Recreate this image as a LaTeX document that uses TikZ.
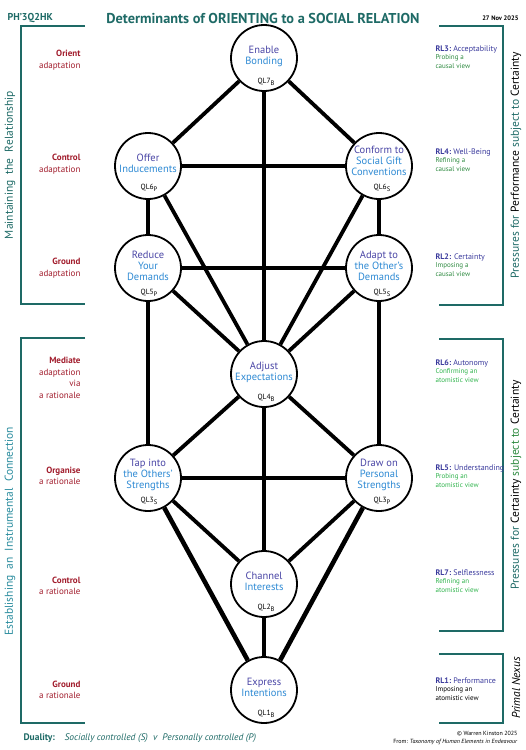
\documentclass[tikz,border=0pt]{standalone}
\usepackage{fontspec}
\setmainfont{PT Sans}

\definecolor{tealdark}{HTML}{1E6A66}
\definecolor{teallight}{HTML}{2A8C9E}
\definecolor{lvlred}{HTML}{A11C2C}
\definecolor{qlpurple}{HTML}{4A46A6}
\definecolor{qlblue}{HTML}{2E8AD4}
\definecolor{rlblue}{HTML}{3A3A9C}
\definecolor{rlgreen}{HTML}{2E8A40}
\definecolor{rllime}{HTML}{2FB34C}

\newcommand{\qlsub}[1]{\raisebox{-2.2pt}{\fontsize{6.5}{7}\selectfont #1}}

\tikzset{
  qlcirc/.style={circle,draw=black,line width=1.8pt,fill=white,minimum size=66pt,inner sep=0pt},
  link/.style={line width=3.8pt},
  heavylink/.style={line width=4.6pt},
  qltext/.style={align=center,text=qlblue,font=\fontsize{10.5}{11}\selectfont},
  qltag/.style={font=\fontsize{7.5}{8}\selectfont},
  bracket/.style={draw=tealdark,line width=1.8pt},
  lvl/.style={anchor=east,align=right,text=lvlred,font=\fontsize{9}{11.5}\selectfont},
  rl/.style={anchor=west,align=left,text=rlgreen,font=\fontsize{7}{8.8}\selectfont},
  side/.style={rotate=90,font=\fontsize{11.5}{13}\selectfont}
}

\begin{document}
\begin{tikzpicture}[x=1pt,y=-1pt]
\useasboundingbox (0,0) rectangle (526,750);

% header
\node[anchor=west,text=tealdark,font=\bfseries\fontsize{10}{12}\selectfont] (code) at (4,18) {PH'3Q2HK};
\node[text=tealdark,font=\bfseries\fontsize{14.3}{16}\selectfont] (title) at (263,18) {Determinants of ORIENTING to a SOCIAL RELATION};
\node[anchor=east,font=\bfseries\fontsize{6.5}{8}\selectfont] (date) at (522,18) {27 Nov 2025};

% brackets
\draw[bracket] (85,26) -- (21,26) -- (21,304) -- (85,304);
\draw[bracket] (85,338) -- (21,338) -- (21,723) -- (85,723);
\draw[bracket] (439,26) -- (503,26) -- (503,305) -- (439,305);
\draw[bracket] (439,339) -- (503,339) -- (503,631) -- (439,631);
\draw[bracket] (439,654) -- (503,654) -- (503,723) -- (439,723);

% circles
\node[qlcirc] (enable) at (264,58) {};
\node[qlcirc] (offer) at (148,166) {};
\node[qlcirc] (conform) at (379,166) {};
\node[qlcirc] (reduce) at (148,268) {};
\node[qlcirc] (adapt) at (379,268) {};
\node[qlcirc] (adjust) at (264,374) {};
\node[qlcirc] (tapinto) at (148,478) {};
\node[qlcirc] (drawon) at (379,478) {};
\node[qlcirc] (channel) at (264,584) {};
\node[qlcirc] (express) at (264,690) {};

% links
\draw[link] (enable) -- (offer);
\draw[link] (enable) -- (conform);
\draw[link] (enable) -- (adjust);
\draw[link] (offer) -- (conform);
\draw[link] (offer) -- (reduce);
\draw[link] (offer) -- (adjust);
\draw[link] (conform) -- (adapt);
\draw[link] (conform) -- (adjust);
\draw[link] (reduce) -- (adapt);
\draw[link] (reduce) -- (tapinto);
\draw[link] (reduce) -- (adjust);
\draw[link] (adapt) -- (drawon);
\draw[link] (adapt) -- (adjust);
\draw[link] (adjust) -- (tapinto);
\draw[link] (adjust) -- (drawon);
\draw[link] (adjust) -- (channel);
\draw[link] (tapinto) -- (drawon);
\draw[link] (tapinto) -- (channel);
\draw[link] (drawon) -- (channel);
\draw[link] (channel) -- (express);
\draw[heavylink] (tapinto) -- (express);
\draw[heavylink] (drawon) -- (express);

% circle texts
\node[qltext] (enable-txt) at (264,56) {{\color{qlpurple}Enable}\\Bonding};
\node[qltag] (enable-ql) at (266,82) {QL7\qlsub{B}};
\node[qltext] (offer-txt) at (148,163) {{\color{qlpurple}Offer}\\Inducements};
\node[qltag] (offer-ql) at (149,188) {QL6\qlsub{P}};
\node[qltext] (conform-txt) at (379,161) {{\color{qlpurple}Conform to}\\Social Gift\\Conventions};
\node[qltag] (conform-ql) at (382,188) {QL6\qlsub{S}};
\node[qltext] (reduce-txt) at (148,266) {{\color{qlpurple}Reduce}\\Your\\Demands};
\node[qltag] (reduce-ql) at (149,293) {QL5\qlsub{P}};
\node[qltext] (adapt-txt) at (379,266) {{\color{qlpurple}Adapt to}\\the Other's\\Demands};
\node[qltag] (adapt-ql) at (382,293) {QL5\qlsub{S}};
\node[qltext] (adjust-txt) at (264,372) {{\color{qlpurple}Adjust}\\Expectations};
\node[qltag] (adjust-ql) at (266,398) {QL4\qlsub{B}};
\node[qltext] (tapinto-txt) at (148,475) {{\color{qlpurple}Tap into}\\the Others'\\Strengths};
\node[qltag] (tapinto-ql) at (149,501) {QL3\qlsub{S}};
\node[qltext] (drawon-txt) at (379,475) {{\color{qlpurple}Draw on}\\Personal\\Strengths};
\node[qltag] (drawon-ql) at (382,501) {QL3\qlsub{P}};
\node[qltext] (channel-txt) at (264,581) {{\color{qlpurple}Channel}\\Interests};
\node[qltag] (channel-ql) at (266,608) {QL2\qlsub{B}};
\node[qltext] (express-txt) at (264,687) {{\color{qlpurple}Express}\\Intentions};
\node[qltag] (express-ql) at (266,714) {QL1\qlsub{B}};

% levels, left
\node[lvl] (orient) at (84,60) {\textbf{Orient}\\adaptation};
\node[lvl] (control-a) at (84,164) {\textbf{Control}\\adaptation};
\node[lvl] (ground-a) at (84,268) {\textbf{Ground}\\adaptation};
\node[lvl] (mediate) at (84,378) {\textbf{Mediate}\\adaptation\\via\\a rationale};
\node[lvl] (organise) at (84,476) {\textbf{Organise}\\a rationale};
\node[lvl] (control-r) at (84,586) {\textbf{Control}\\a rationale};
\node[lvl] (ground-r) at (84,690) {\textbf{Ground}\\a rationale};

% levels, right
\node[rl] (rl3) at (432,57) {{\fontsize{8}{9}\selectfont\color{rlblue}\textbf{RL3:}\ Acceptability}\\Probing a\\causal view};
\node[rl] (rl4) at (432,160) {{\fontsize{8}{9}\selectfont\color{rlblue}\textbf{RL4:}\ Well-Being}\\Refining a\\causal view};
\node[rl] (rl2) at (432,265) {{\fontsize{8}{9}\selectfont\color{rlblue}\textbf{RL2:} Certainty}\\Imposing a\\causal view};
\node[rl,text=rllime] (rl6) at (432,371) {{\fontsize{8}{9}\selectfont\color{rlblue}\textbf{RL6:}\ Autonomy}\\Confirming an\\atomistic view};
\node[rl,text=rllime] (rl5) at (432,476) {{\fontsize{8}{9}\selectfont\color{rlblue}\textbf{RL5:} Understanding}\\Probing an\\atomistic view};
\node[rl,text=rllime] (rl7) at (432,581) {{\fontsize{8}{9}\selectfont\color{rlblue}\textbf{RL7:}\ Selflessness}\\Refining an\\atomistic view};
\node[rl,text=black] (rl1) at (432,689) {{\fontsize{8}{9}\selectfont\color{rlblue}\textbf{RL1:}\ Performance}\\Imposing an\\atomistic view};

% side titles
\node[side,text=tealdark] (maintain) at (10,165) {Maintaining\ \ the\ \ Relationship};
\node[side,text=teallight] (establish) at (10,531) {Establishing\ \ an\ \ Instrumental\ \ Connection};
\node[side,text=tealdark] (perf) at (516,165) {Pressures for {\color{black}Performance} subject to {\color{black}Certainty}};
\node[side,text=tealdark] (cert) at (516,485) {Pressures for {\color{black}Certainty} {\color{rlgreen}subject to} {\color{black}Certainty}};
\node[side,font=\itshape\fontsize{11.5}{13}\selectfont] (nexus) at (516,688) {Primal Nexus};

% footer
\node[anchor=west,text=tealdark,font=\fontsize{9.5}{11}\selectfont] (duality) at (20,738) {\textbf{Duality:}\quad\textit{Socially controlled (S) \ v \ Personally controlled (P)}};
\node[anchor=east,align=right,font=\fontsize{6}{7.5}\selectfont] (credit) at (521,738) {\textcopyright\ Warren Kinston 2025\\From: \textit{Taxonomy of Human Elements in Endeavour}};
\end{tikzpicture}
\end{document}
